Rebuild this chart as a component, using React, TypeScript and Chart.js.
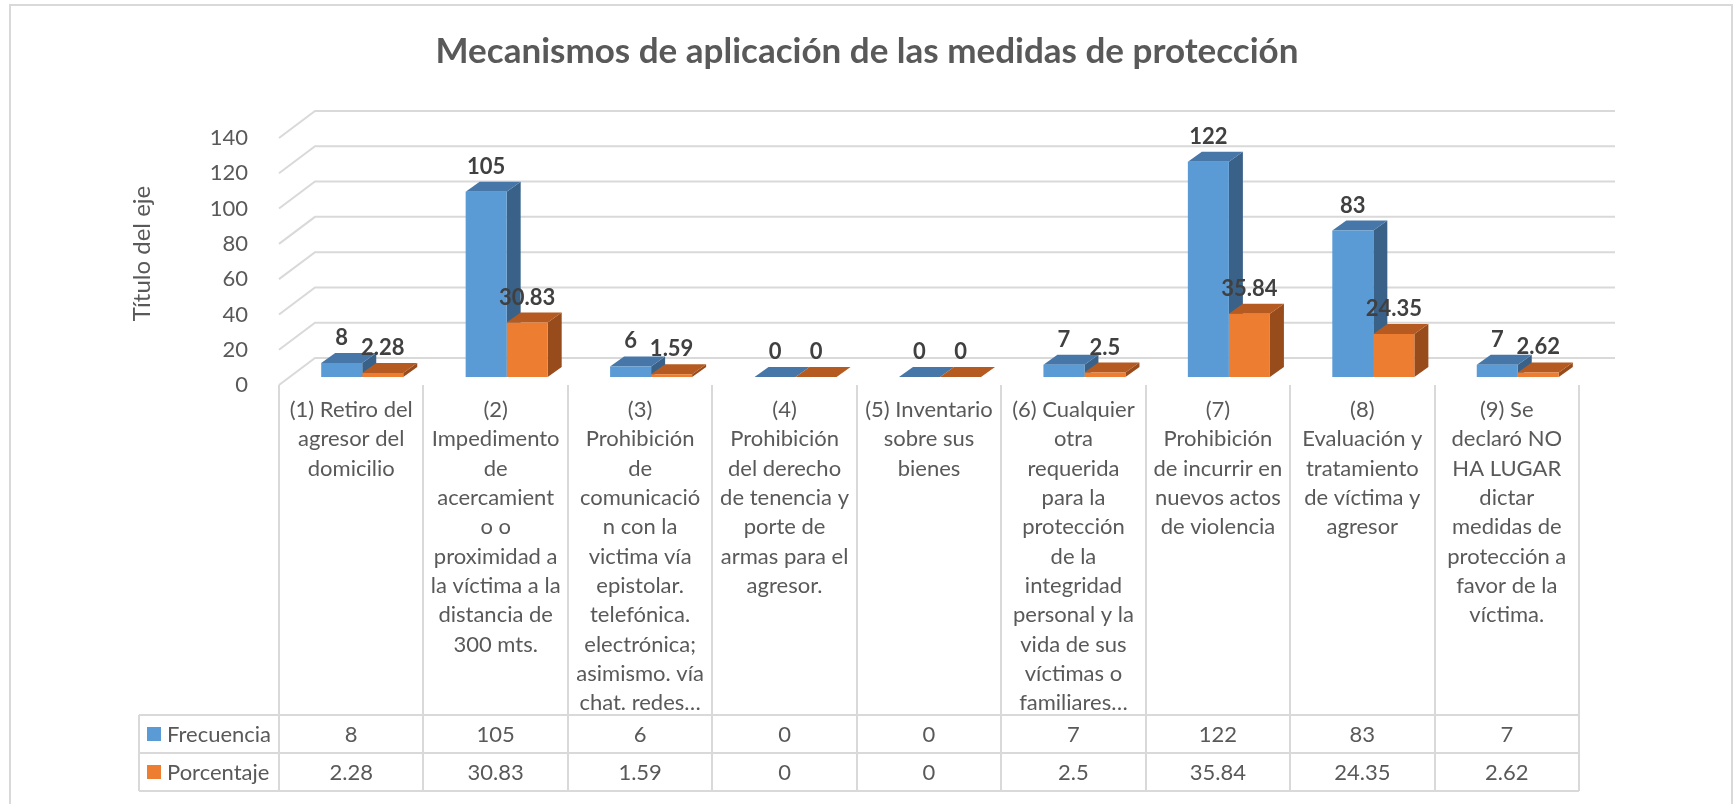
import React, { useEffect, useRef } from 'react';
import { Chart, registerables } from 'chart.js';

Chart.register(...registerables);

// ---------- data ----------
const chartTitle = 'Mecanismos de aplicación de las medidas de protección';
const axisTitle = 'Título del eje';
const seriesNames = ['Frecuencia', 'Porcentaje'];
const categories: string[][] = [
  ['(1) Retiro del', 'agresor del', 'domicilio'],
  ['(2)', 'Impedimento', 'de', 'acercamient', 'o o', 'proximidad a', 'la víctima a la', 'distancia de', '300 mts.'],
  ['(3)', 'Prohibición', 'de', 'comunicació', 'n con la', 'victima vía', 'epistolar.', 'telefónica.', 'electrónica;', 'asimismo. vía', 'chat. redes…'],
  ['(4)', 'Prohibición', 'del derecho', 'de tenencia y', 'porte de', 'armas para el', 'agresor.'],
  ['(5) Inventario', 'sobre sus', 'bienes'],
  ['(6) Cualquier', 'otra', 'requerida', 'para la', 'protección', 'de la', 'integridad', 'personal y la', 'vida de sus', 'víctimas o', 'familiares…'],
  ['(7)', 'Prohibición', 'de incurrir en', 'nuevos actos', 'de violencia'],
  ['(8)', 'Evaluación y', 'tratamiento', 'de víctima y', 'agresor'],
  ['(9) Se', 'declaró NO', 'HA LUGAR', 'dictar', 'medidas de', 'protección a', 'favor de la', 'víctima.'],
];
const frecuencia = [8, 105, 6, 0, 0, 7, 122, 83, 7];
const porcentaje = [2.28, 30.83, 1.59, 0, 0, 2.5, 35.84, 24.35, 2.62];
const yMin = 0;
const yMax = 140;
const yStep = 20;

// ---------- style ----------
const W = 1734;
const H = 804;
const FONT = 'Lato, "Open Sans", sans-serif';
const TEXT = '#595959';
const LABEL = '#404040';
const GRID = '#d9d9d9';
const frontColors = ['#5B9BD5', '#ED7D31'];
const topColors = ['#4677A8', '#B55B21'];
const sideColors = ['#3A6288', '#984B1B'];
const FRONT_DX = -11, FRONT_DY = 8;
const BACK_DX = 25, BACK_DY = -19;
const BAR_DX = 14, BAR_DY = 10;
const ROW_H = 38;

const threeD = {
  id: 'threeD',
  beforeDraw(chart: any) {
    const ctx = chart.ctx;
    ctx.save();
    ctx.fillStyle = '#ffffff';
    ctx.fillRect(0, 0, W, H);
    ctx.strokeStyle = GRID;
    ctx.lineWidth = 2;
    ctx.strokeRect(10, 5, 1722, 830);
    ctx.restore();
  },
  beforeDatasetsDraw(chart: any) {
    const { ctx, chartArea: ca } = chart;
    const x = chart.scales.x;
    const y = chart.scales.y;
    ctx.save();
    ctx.strokeStyle = GRID;
    ctx.lineWidth = 2;
    // walls
    y.ticks.forEach((t: any) => {
      const py = y.getPixelForValue(t.value);
      ctx.beginPath();
      ctx.moveTo(ca.left + FRONT_DX, py + FRONT_DY);
      ctx.lineTo(ca.left + BACK_DX, py + BACK_DY);
      ctx.lineTo(ca.right + BACK_DX, py + BACK_DY);
      ctx.stroke();
    });
    // data table grid
    const n = categories.length;
    const colW = (ca.right - ca.left) / n;
    const fl = ca.left + FRONT_DX;
    const fr = ca.right + FRONT_DX;
    const tTop = x.bottom;
    const tLeft = fl - 140;
    ctx.beginPath();
    for (let i = 0; i <= n; i++) {
      const px = Math.round(fl + i * colW);
      ctx.moveTo(px, ca.bottom + FRONT_DY);
      ctx.lineTo(px, tTop + 2 * ROW_H);
    }
    for (let r = 0; r <= 2; r++) {
      ctx.moveTo(tLeft, tTop + r * ROW_H);
      ctx.lineTo(fr, tTop + r * ROW_H);
    }
    ctx.moveTo(tLeft, tTop);
    ctx.lineTo(tLeft, tTop + 2 * ROW_H);
    ctx.stroke();
    // 3D faces of bars
    chart.data.datasets.forEach((ds: any, di: number) => {
      const meta = chart.getDatasetMeta(di);
      meta.data.forEach((el: any) => {
        const { x: bx, y: by, base, width } = el.getProps(['x', 'y', 'base', 'width'], true);
        const l = bx - width / 2;
        const r = bx + width / 2;
        const top = Math.min(by, base);
        ctx.fillStyle = sideColors[di];
        ctx.beginPath();
        ctx.moveTo(r, top);
        ctx.lineTo(r + BAR_DX, top - BAR_DY);
        ctx.lineTo(r + BAR_DX, base - BAR_DY);
        ctx.lineTo(r, base);
        ctx.closePath();
        ctx.fill();
        ctx.fillStyle = topColors[di];
        ctx.beginPath();
        ctx.moveTo(l, top);
        ctx.lineTo(l + BAR_DX, top - BAR_DY);
        ctx.lineTo(r + BAR_DX, top - BAR_DY);
        ctx.lineTo(r, top);
        ctx.closePath();
        ctx.fill();
      });
    });
    ctx.restore();
  },
  afterDatasetsDraw(chart: any) {
    const { ctx, chartArea: ca } = chart;
    const x = chart.scales.x;
    ctx.save();
    // data labels
    ctx.font = `bold 22px ${FONT}`;
    ctx.fillStyle = LABEL;
    ctx.textAlign = 'center';
    ctx.textBaseline = 'alphabetic';
    chart.data.datasets.forEach((ds: any, di: number) => {
      const meta = chart.getDatasetMeta(di);
      meta.data.forEach((el: any, i: number) => {
        const { x: bx, y: by } = el.getProps(['x', 'y'], true);
        ctx.fillText(String(ds.data[i]), bx, by - 18);
      });
    });
    // data table
    const n = categories.length;
    const colW = (ca.right - ca.left) / n;
    const fl = ca.left + FRONT_DX;
    const tTop = x.bottom;
    const tLeft = fl - 140;
    ctx.font = `22px ${FONT}`;
    ctx.fillStyle = TEXT;
    ctx.textBaseline = 'middle';
    chart.data.datasets.forEach((ds: any, di: number) => {
      const cy = tTop + di * ROW_H + ROW_H / 2;
      ctx.fillStyle = ds.backgroundColor;
      ctx.fillRect(tLeft + 8, cy - 7, 14, 14);
      ctx.fillStyle = TEXT;
      ctx.textAlign = 'left';
      ctx.fillText(ds.label, tLeft + 28, cy + 1);
      ctx.textAlign = 'center';
      ds.data.forEach((v: number, i: number) => {
        ctx.fillText(String(v), fl + (i + 0.5) * colW, cy + 1);
      });
    });
    ctx.restore();
  },
};

export default function App() {
  const ref = useRef<HTMLCanvasElement>(null);
  useEffect(() => {
    const canvas = ref.current;
    if (!canvas) return;
    const chart = new Chart(canvas, {
      type: 'bar',
      data: {
        labels: categories,
        datasets: [
          { label: seriesNames[0], data: frecuencia, backgroundColor: frontColors[0], borderWidth: 0 },
          { label: seriesNames[1], data: porcentaje, backgroundColor: frontColors[1], borderWidth: 0 },
        ],
      },
      options: {
        responsive: false,
        animation: false,
        events: [],
        layout: { padding: { left: 122, right: 122, top: 0, bottom: 89 } },
        datasets: { bar: { categoryPercentage: 0.568, barPercentage: 1 } },
        plugins: {
          legend: { display: false },
          tooltip: { enabled: false },
          title: {
            display: true,
            text: chartTitle,
            color: TEXT,
            font: { family: FONT, size: 35, weight: 'bold', lineHeight: 1.2 },
            padding: { top: 31, bottom: 57 },
          },
        },
        scales: {
          x: {
            type: 'category',
            grid: { display: false },
            border: { display: false },
            ticks: {
              autoSkip: false,
              maxRotation: 0,
              minRotation: 0,
              labelOffset: FRONT_DX,
              padding: 10.4,
              color: TEXT,
              font: { family: FONT, size: 22, lineHeight: 1.333 },
            },
            afterFit: (s: any) => { s.height = 338; },
          },
          y: {
            min: yMin,
            max: yMax,
            grid: { display: false },
            border: { display: false },
            ticks: {
              stepSize: yStep,
              padding: 34,
              labelOffset: FRONT_DY,
              color: TEXT,
              font: { family: FONT, size: 22 },
            },
            title: {
              display: true,
              text: axisTitle,
              color: TEXT,
              font: { family: FONT, size: 24, lineHeight: 1.2 },
              padding: { top: 5.6, bottom: 0 },
            },
            afterFit: (s: any) => { s.width = 168; },
          },
          yRight: {
            type: 'linear',
            position: 'right',
            display: true,
            grid: { display: false },
            border: { display: false },
            ticks: { display: false },
            afterFit: (s: any) => { s.width = 22; },
          },
        },
      },
      plugins: [threeD],
    } as any);
    return () => chart.destroy();
  }, []);
  return (
    <div style={{ position: 'absolute', left: 0, top: 0, width: W, height: H, background: '#fff' }}>
      <canvas ref={ref} width={W} height={H} style={{ display: 'block', width: W, height: H }} />
    </div>
  );
}
